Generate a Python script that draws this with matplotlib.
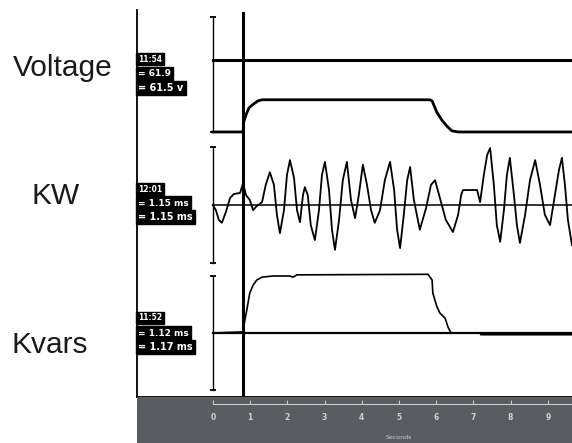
import matplotlib
matplotlib.use("Agg")
import matplotlib.pyplot as plt

# ---- data (time in seconds, values in scale units) ----
cursor_t = 0.8

volt_t = [0.00, 0.81, 0.83, 0.89, 0.97, 1.08, 1.21, 1.32, 5.83, 5.89, 6.02, 6.16,
          6.29, 6.42, 6.59, 9.65]
volt_v = [0.00, 0.00, 0.09, 0.15, 0.21, 0.24, 0.27, 0.28, 0.28, 0.27, 0.17, 0.10,
          0.05, 0.01, 0.00, 0.00]
volt_ref = 0.63

kw_t = [0.00, 0.08, 0.16, 0.24, 0.35, 0.46, 0.56, 0.73, 0.81, 0.89, 0.99, 1.08,
        1.16, 1.32, 1.42, 1.53, 1.64, 1.72, 1.80, 1.91, 1.99, 2.07, 2.18, 2.26,
        2.34, 2.42, 2.47, 2.55, 2.63, 2.74, 2.85, 2.93, 3.01, 3.12, 3.20, 3.28,
        3.39, 3.49, 3.60, 3.71, 3.82, 3.92, 4.03, 4.14, 4.25, 4.35, 4.49, 4.62,
        4.76, 4.87, 4.95, 5.03, 5.13, 5.22, 5.30, 5.40, 5.56, 5.73, 5.86, 5.97,
        6.08, 6.26, 6.45, 6.59, 6.67, 6.72, 7.10, 7.18, 7.28, 7.37, 7.45, 7.55,
        7.63, 7.72, 7.82, 7.90, 7.98, 8.09, 8.17, 8.25, 8.39, 8.52, 8.66, 8.79,
        8.92, 9.06, 9.19, 9.30, 9.38, 9.46, 9.54, 9.65]
kw_v = [0.00, -0.09, -0.26, -0.31, -0.12, 0.12, 0.19, 0.21, 0.38, 0.17, 0.09, -0.09,
        -0.03, 0.05, 0.35, 0.57, 0.35, -0.17, -0.49, -0.09, 0.52, 0.78, 0.47, -0.09,
        -0.30, 0.17, 0.31, 0.17, -0.35, -0.61, -0.09, 0.52, 0.75, 0.26, -0.43, -0.78,
        -0.26, 0.43, 0.75, 0.09, -0.23, 0.17, 0.70, 0.35, -0.09, -0.31, -0.09, 0.43,
        0.75, 0.26, -0.43, -0.75, -0.17, 0.43, 0.66, 0.09, -0.43, -0.05, 0.35, 0.43,
        0.17, -0.26, -0.47, -0.17, 0.17, 0.26, 0.26, 0.05, 0.52, 0.87, 0.99, 0.35,
        -0.35, -0.64, -0.09, 0.52, 0.82, 0.17, -0.35, -0.66, -0.17, 0.43, 0.78, 0.35,
        -0.17, -0.35, 0.17, 0.61, 0.82, 0.35, -0.26, -0.70]

kvar_t = [0.00, 0.81, 0.86, 0.91, 0.99, 1.08, 1.18, 1.32, 1.61, 2.07, 2.15, 2.26,
          5.78, 5.89, 5.91, 6.02, 6.10, 6.24, 6.32, 6.40, 7.18, 7.20, 9.65]
kvar_v = [0.00, 0.02, 0.23, 0.40, 0.70, 0.84, 0.93, 0.98, 1.00, 1.00, 0.98, 1.02,
          1.03, 0.93, 0.70, 0.46, 0.35, 0.26, 0.10, 0.00, 0.00, -0.03, -0.03]

sec_ticks = list(range(10))

labels = ["Voltage", "KW", "Kvars"]
readouts = [["11:54", "= 61.9", "= 61.5 v"],
            ["12:01", "= 1.15 ms", "= 1.15 ms"],
            ["11:52", "= 1.12 ms", "= 1.17 ms"]]

W, H = 572, 443
XLIM = (-2.04, 9.65)


def rect(x0, y0, x1, y1):
    # pixel box (top-left origin) -> figure fraction
    return [x0 / W, 1 - y1 / H, (x1 - x0) / W, (y1 - y0) / H]


def bare(ax):
    ax.set_xlim(*XLIM)
    ax.set_xticks([])
    ax.set_yticks([])
    for s in ax.spines.values():
        s.set_visible(False)
    ax.patch.set_alpha(0)


def scale_bar(ax, lo, hi):
    ax.plot([0, 0], [lo, hi], color="black", lw=1.0)
    ax.plot([0, 0], [lo, hi], ls="none", marker="_", ms=4, mew=1.3, color="black")


fig = plt.figure(figsize=(W / 100, H / 100), dpi=100)

# background frame with the cursor
bg = fig.add_axes(rect(137, 10, 572, 397))
bare(bg)
bg.set_ylim(0, 1)
bg.spines["left"].set_visible(True)
bg.spines["left"].set_linewidth(1.3)
bg.spines["bottom"].set_visible(True)
bg.spines["bottom"].set_linewidth(1.3)
bg.axvline(cursor_t, ymin=0, ymax=0.992, color="black", lw=2.2)

# Voltage
ax1 = fig.add_axes(rect(137, 10, 572, 140))
bare(ax1)
ax1.set_ylim(-0.07, 1.061)
scale_bar(ax1, 0, 1)
ax1.plot([0, XLIM[1]], [volt_ref, volt_ref], color="black", lw=2.2)
ax1.plot(volt_t, volt_v, color="black", lw=2.0)

# KW
ax2 = fig.add_axes(rect(137, 140, 572, 269))
bare(ax2)
ax2.set_ylim(-1.113, 1.130)
scale_bar(ax2, -1, 1)
ax2.plot([0, XLIM[1]], [0, 0], color="black", lw=1.1)
ax2.plot(kw_t, kw_v, color="black", lw=1.3)

# Kvars
ax3 = fig.add_axes(rect(137, 269, 572, 397))
bare(ax3)
ax3.set_ylim(-1.123, 1.123)
scale_bar(ax3, -1, 1)
ax3.plot([0, XLIM[1]], [0, 0], color="black", lw=1.6)
ax3.plot(kvar_t, kvar_v, color="black", lw=1.2)

# time band
axb = fig.add_axes(rect(137, 397, 572, 443))
axb.set_xlim(*XLIM)
axb.set_ylim(0, 1)
axb.set_facecolor("#595c60")
axb.set_xticks([])
axb.set_yticks([])
for s in axb.spines.values():
    s.set_visible(False)
axb.plot([0, XLIM[1]], [0.85, 0.85], color="#c9c9c9", lw=0.8)
axb.vlines(sec_ticks, 0.85, 0.93, color="#c9c9c9", lw=0.8)
for s in sec_ticks:
    axb.text(s, 0.55, str(s), color="#d2d2d2", fontsize=5.5, weight="bold",
             ha="center", va="center")
axb.text(5.0, 0.13, "Seconds", color="#cfcfcf", fontsize=4.5, ha="center", va="center")

# channel names
label_pos = [(13, 68), (31, 196), (12, 345)]
for name, (x, y) in zip(labels, label_pos):
    fig.text(x / W, 1 - y / H, name, fontsize=21.5, family="Liberation Sans",
             color="#1a1a1a", ha="left", va="center")

# digital readout blocks
row_y = [(59, 74, 88), (189, 203, 217), (318, 333, 347)]
row_fs = [5.5, 6.5, 7.0]
for rows, ys in zip(readouts, row_y):
    for txt, y, fs in zip(rows, ys, row_fs):
        fig.text(138 / W, 1 - y / H, txt, fontsize=fs, weight="bold", color="white",
                 ha="left", va="center",
                 bbox=dict(boxstyle="square,pad=0.25", fc="black", ec="black"))

fig.savefig("out.png", dpi=100)
